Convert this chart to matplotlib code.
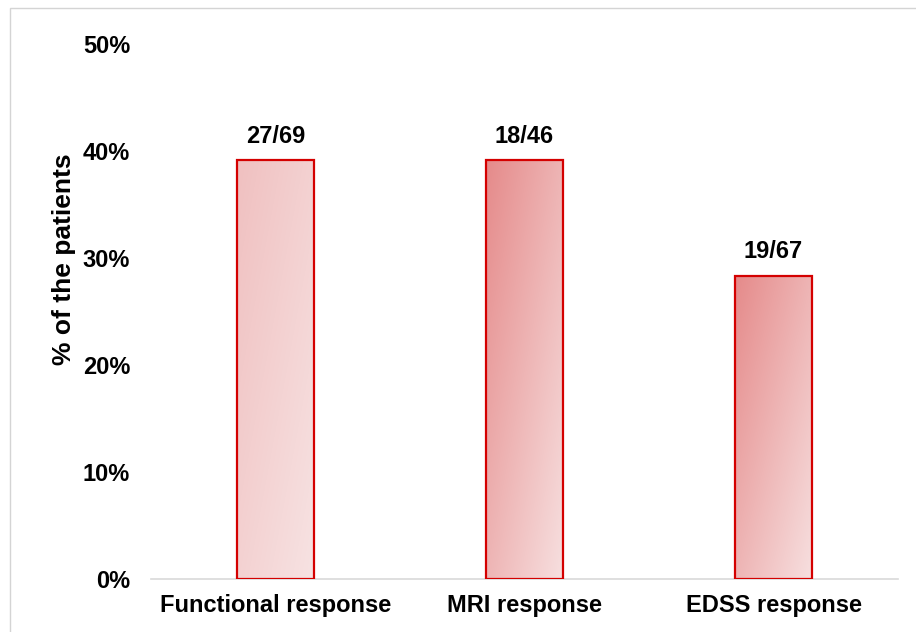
import numpy as np
import matplotlib
matplotlib.use("Agg")
import matplotlib.pyplot as plt
from matplotlib.colors import to_rgb
from matplotlib.patches import Rectangle

# Data: responders out of evaluable patients per response criterion
categories = ["Functional response", "MRI response", "EDSS response"]
responders = [27, 18, 19]
totals = [69, 46, 67]
yticks = [0.0, 0.1, 0.2, 0.3, 0.4, 0.5]

shares = [r / n for r, n in zip(responders, totals)]
bar_labels = [f"{r}/{n}" for r, n in zip(responders, totals)]

plt.rcParams["font.family"] = ["Liberation Sans", "DejaVu Sans"]
plt.rcParams["font.weight"] = "bold"

EDGE = "#d40000"
GRADIENTS = [("#f0c0c0", "#f7e3e3"),
             ("#e58a8a", "#f7e0e0"),
             ("#e58a8a", "#f7e0e0")]

fig = plt.figure(figsize=(9.16, 6.32), dpi=100)
ax = fig.add_axes([151 / 916, 53 / 632, 747 / 916, 535 / 632])

x = np.arange(len(categories))
bars = ax.bar(x, shares, width=0.313, facecolor="none", edgecolor=EDGE,
              linewidth=1.6, zorder=3)


def gradient_image(c0, c1, n=200):
    """Diagonal gradient from top-left (c0) to bottom-right (c1)."""
    u = np.linspace(0, 1, n)[None, :]
    v = np.linspace(0, 1, n)[:, None]
    t = np.clip(0.5 * u + 0.5 * v, 0, 1)[..., None]
    a = np.array(to_rgb(c0))
    b = np.array(to_rgb(c1))
    return a + (b - a) * t


for patch, (c0, c1) in zip(bars.patches, GRADIENTS):
    x0, y0 = patch.get_x(), patch.get_y()
    w, h = patch.get_width(), patch.get_height()
    im = ax.imshow(gradient_image(c0, c1), extent=(x0, x0 + w, y0, y0 + h),
                   origin="upper", aspect="auto", interpolation="bilinear",
                   zorder=2)
    im.set_clip_path(patch)

for xi, s, lab in zip(x, shares, bar_labels):
    ax.annotate(lab, xy=(xi, s), xytext=(0, 12.5), textcoords="offset points",
                ha="center", va="baseline", fontsize=17, fontweight="bold",
                color="black")

ax.set_xlim(-0.5, len(categories) - 0.5)
ax.set_ylim(0, 0.5)
ax.set_yticks(yticks)
ax.set_yticklabels([f"{t:.0%}" for t in yticks])
ax.set_xticks(x)
ax.set_xticklabels(categories)
ax.tick_params(axis="both", length=0, labelsize=17, colors="black")
ax.tick_params(axis="y", pad=15)
ax.tick_params(axis="x", pad=11)

for side in ("top", "right", "left"):
    ax.spines[side].set_visible(False)
ax.spines["bottom"].set_color("#d9d9d9")
ax.spines["bottom"].set_linewidth(1.2)

ax.set_ylabel("% of the patients", fontsize=19, fontweight="bold")
ax.yaxis.set_label_coords(-0.116, (579 - 259) / 535)
ax.yaxis.label.set_verticalalignment("center")

# light frame around the chart area
fig.patches.append(Rectangle((10 / 916, -0.1), 1.2, 1.1 - 8 / 632,
                             transform=fig.transFigure, fill=False,
                             edgecolor="#d4d4d4", linewidth=1.0))

fig.savefig("out.png", dpi=100)
